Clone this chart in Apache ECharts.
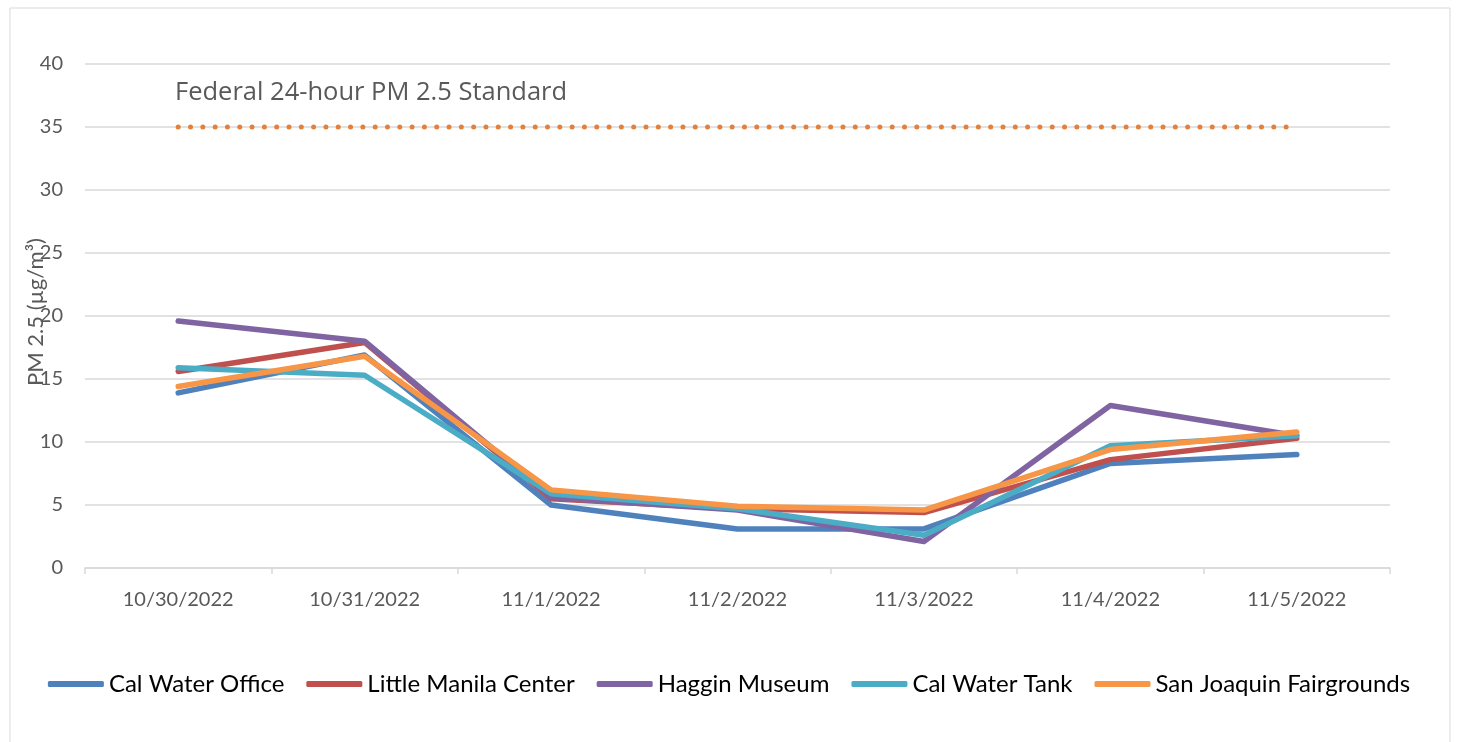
<!DOCTYPE html>
<html>
<head>
<meta charset="utf-8">
<script src="https://cdn.jsdelivr.net/npm/echarts@6/dist/echarts.min.js"></script>
<style>
  html, body { margin: 0; padding: 0; background: #fff; }
  #chart { width: 1458px; height: 742px; }
</style>
</head>
<body>
<div id="chart"></div>
<script>
// dates on the x axis
let days = ['10/30/2022', '10/31/2022', '11/1/2022', '11/2/2022', '11/3/2022', '11/4/2022', '11/5/2022']

// PM 2.5 per site (µg/m3)
let calWaterOffice = [13.9, 16.9, 5.0, 3.1, 3.1, 8.3, 9.0]
let littleManila = [15.6, 17.9, 5.5, 4.7, 4.4, 8.6, 10.3]
let hagginMuseum = [19.6, 18.0, 5.6, 4.6, 2.1, 12.9, 10.5]
let calWaterTank = [15.9, 15.3, 5.9, 4.7, 2.6, 9.7, 10.5]
let fairgrounds = [14.4, 16.8, 6.2, 4.9, 4.6, 9.4, 10.8]
let standard = [35, 35, 35, 35, 35, 35, 35]

let yTicks = { min: 0, max: 40, interval: 5 }

let font = 'Lato'

let siteLine = function(name, data, color) {
    return {
        name: name,
        type: 'line',
        data: data,
        symbol: 'none',
        lineStyle: { width: 5.5, color: color, cap: 'round', join: 'round' },
        itemStyle: { color: color }
    }
}

let setChart = function(ele, options) {
    if (typeof echarts === 'object') {
        let myChart = echarts.init(ele)
        myChart.setOption(options)
        return myChart
    }
}

let options = {
    animation: false,
    backgroundColor: '#fff',
    graphic: [
        {
            type: 'rect',
            shape: { x: 10, y: 8, width: 1440, height: 740 },
            style: { fill: 'none', stroke: '#d9d9d9', lineWidth: 1 }
        },
        {
            type: 'text',
            left: 175,
            top: 80,
            style: { text: 'Federal 24-hour PM 2.5 Standard', fill: '#595959', font: '25.5px "Open Sans"' }
        },
        // y axis title, sits over the tick labels like the original
        {
            type: 'text',
            x: 36,
            y: 312,
            rotation: Math.PI / 2,
            z: 100,
            style: {
                text: 'PM 2.5 (µg/m³)',
                fill: '#595959',
                font: '22px Lato',
                align: 'center',
                verticalAlign: 'middle'
            }
        }
    ],
    grid: { left: 85, right: 68, top: 64, bottom: 174 },
    legend: {
        bottom: 41,
        left: 'center',
        itemWidth: 56,
        itemHeight: 6,
        itemGap: 22,
        icon: 'roundRect',
        textStyle: { fontFamily: font, fontSize: 24, color: '#000' },
        data: ['Cal Water Office', 'Little Manila Center', 'Haggin Museum', 'Cal Water Tank', 'San Joaquin Fairgrounds']
    },
    xAxis: {
        type: 'category',
        data: days,
        boundaryGap: true,
        axisLine: { lineStyle: { color: '#d9d9d9', width: 1.5 } },
        axisTick: { show: true, length: 6, lineStyle: { color: '#d9d9d9', width: 1.5 } },
        axisLabel: { color: '#595959', fontFamily: font, fontSize: 20, margin: 22 }
    },
    yAxis: {
        type: 'value',
        min: yTicks.min,
        max: yTicks.max,
        interval: yTicks.interval,
        axisLine: { show: false },
        axisTick: { show: false },
        axisLabel: { color: '#595959', fontFamily: font, fontSize: 20, margin: 22 },
        splitLine: { lineStyle: { color: '#d9d9d9', width: 1.5 } }
    },
    series: [
        siteLine('Cal Water Office', calWaterOffice, '#4f81bd'),
        siteLine('Little Manila Center', littleManila, '#c0504d'),
        siteLine('Haggin Museum', hagginMuseum, '#8064a2'),
        siteLine('Cal Water Tank', calWaterTank, '#4bacc6'),
        siteLine('San Joaquin Fairgrounds', fairgrounds, '#f79646'),
        {
            name: 'Federal Standard',
            type: 'line',
            data: standard,
            symbol: 'none',
            silent: true,
            lineStyle: { width: 5, color: '#e3803b', type: [0.01, 12.3], cap: 'round' }
        }
    ]
}

setChart(document.getElementById('chart'), options)
</script>
</body>
</html>
